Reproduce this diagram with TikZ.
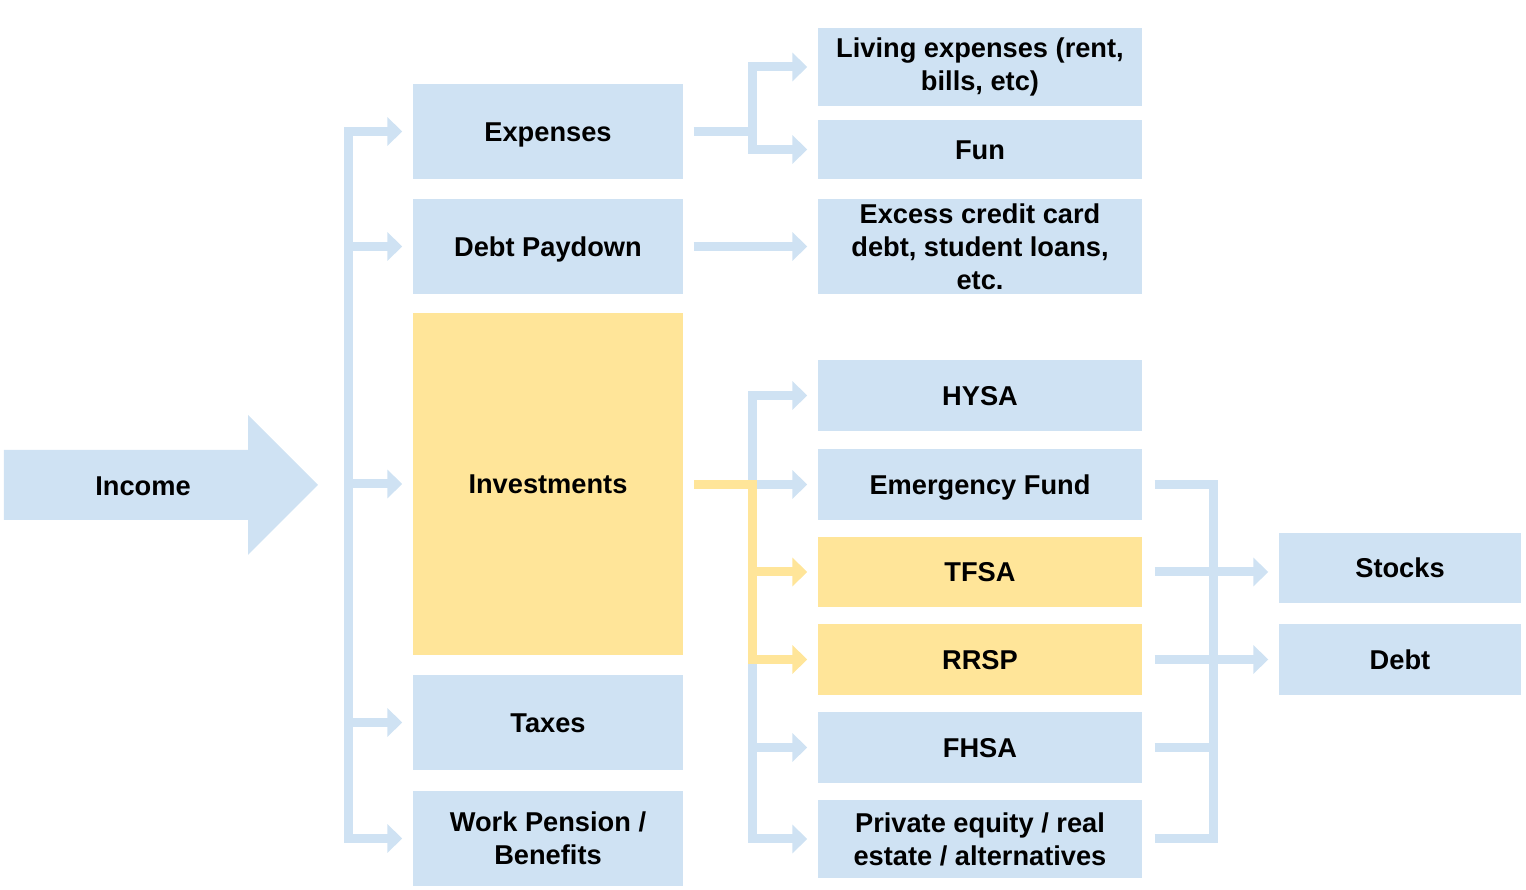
\documentclass[tikz,border=0pt]{standalone}
\usepackage{fontspec}
\setmainfont{Liberation Sans}
\usetikzlibrary{arrows.meta}
\definecolor{paleblue}{HTML}{CFE2F3}
\definecolor{paleyellow}{HTML}{FFE599}
\begin{document}
\begin{tikzpicture}
  \tikzset{
    box/.style={fill=paleblue, inner sep=0pt, align=center, font=\bfseries\fontsize{7.75}{9.4}\selectfont},
    one/.style={text height=5.6pt, text depth=0pt},
    lbox/.style={box, minimum width=2.70cm, minimum height=0.95cm},
    rbox/.style={box, minimum width=3.24cm, minimum height=0.71cm},
    fbox/.style={box, minimum width=2.42cm, minimum height=0.71cm},
    hot/.style={fill=paleyellow},
    bline/.style={draw=paleblue, line width=0.09cm},
    yline/.style={draw=paleyellow, line width=0.09cm},
    barrow/.style={bline, -{Triangle[length=0.15cm, width=0.28cm]}, shorten >=0.1cm},
    yarrow/.style={yline, -{Triangle[length=0.15cm, width=0.28cm]}, shorten >=0.1cm},
  }

  \useasboundingbox (0,0) rectangle (15.26,-8.90);

  \fill[paleblue] (0.04,-4.50) -- (2.48,-4.50) -- (2.48,-4.15) -- (3.18,-4.85)
    -- (2.48,-5.55) -- (2.48,-5.20) -- (0.04,-5.20) -- cycle;
  \node[one, font=\bfseries\fontsize{7.75}{9.4}\selectfont] (income) at (1.43,-4.86) {Income};

  \node[lbox, one] (expenses) at (5.48,-1.315) {Expenses};
  \node[lbox, one] (debtpay) at (5.48,-2.465) {Debt Paydown};
  \node[lbox, one, hot, minimum height=3.42cm] (invest) at (5.48,-4.84) {Investments};
  \node[lbox, one] (taxes) at (5.48,-7.225) {Taxes};
  \node[lbox] (pension) at (5.48,-8.385) {Work Pension /\\Benefits};

  \node[rbox, minimum height=0.78cm] (living) at (9.80,-0.67) {Living expenses (rent,\\bills, etc)};
  \node[rbox, one, minimum height=0.59cm] (fun) at (9.80,-1.495) {Fun};
  \node[rbox, minimum height=0.95cm] (excess) at (9.80,-2.465) {Excess credit card\\debt, student loans,\\etc.};
  \node[rbox, one] (hysa) at (9.80,-3.955) {HYSA};
  \node[rbox, one] (emerg) at (9.80,-4.845) {Emergency Fund};
  \node[rbox, one, hot, minimum height=0.70cm] (tfsa) at (9.80,-5.72) {TFSA};
  \node[rbox, one, hot] (rrsp) at (9.80,-6.595) {RRSP};
  \node[rbox, one] (fhsa) at (9.80,-7.475) {FHSA};
  \node[rbox, minimum height=0.78cm] (private) at (9.80,-8.39) {Private equity / real\\estate / alternatives};

  \node[fbox, one, minimum height=0.70cm] (stocks) at (14.00,-5.68) {Stocks};
  \node[fbox, one] (debt) at (14.00,-6.595) {Debt};

  \coordinate (trunk) at (3.48,0);
  \coordinate (msplit) at (7.52,0);
  \coordinate (rsplit) at (12.13,0);

  \draw[bline, line cap=rect] (trunk |- expenses) -- (trunk |- pension);
  \foreach \n in {expenses,debtpay,invest,taxes,pension}
    \draw[barrow] (trunk |- \n) -- (\n.west);

  \draw[bline, shorten <=0.1cm] (expenses.east) -- (msplit |- expenses);
  \draw[bline, line cap=rect] (msplit |- living) -- (msplit |- fun);
  \foreach \n in {living,fun}
    \draw[barrow] (msplit |- \n) -- (\n.west);

  \draw[barrow, shorten <=0.1cm] (debtpay.east) -- (excess.west);

  \draw[bline, line cap=rect] (msplit |- hysa) -- (msplit |- private);
  \foreach \n in {hysa,emerg,fhsa,private}
    \draw[barrow] (msplit |- \n) -- (\n.west);
  \draw[yline, line cap=rect, shorten <=0.145cm] (invest.east |- emerg) -- (msplit |- emerg) -- (msplit |- rrsp);
  \foreach \n in {tfsa,rrsp}
    \draw[yarrow] (msplit |- \n) -- (\n.west);

  \draw[bline, line cap=rect] (rsplit |- emerg) -- (rsplit |- private);
  \foreach \n in {emerg,tfsa,rrsp,fhsa,private}
    \draw[bline, shorten <=0.12cm] (\n.east) -- (rsplit |- \n);
  \draw[barrow] (rsplit |- tfsa) -- (stocks.west |- tfsa);
  \draw[barrow] (rsplit |- rrsp) -- (debt.west |- rrsp);
\end{tikzpicture}
\end{document}
